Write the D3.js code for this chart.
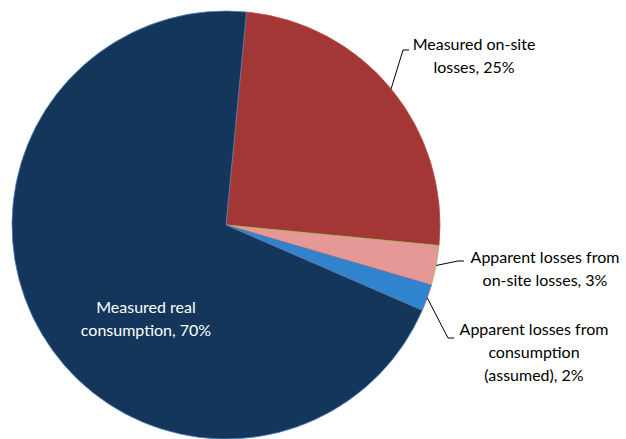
<!DOCTYPE html>
<html>
<head>
<meta charset="utf-8">
<script src="https://cdn.jsdelivr.net/npm/d3@7/dist/d3.min.js"></script>
<style>
  html, body { margin: 0; padding: 0; background: #fff; }
  svg { display: block; }
  text { font-family: "Lato", "Open Sans", sans-serif; font-size: 16px; }
</style>
</head>
<body>
<svg id="chart" width="626" height="439"></svg>
<script>
// Water balance shares (percent), drawn clockwise from the top
const categories = [
  "Measured on-site losses",
  "Apparent losses from on-site losses",
  "Apparent losses from consumption (assumed)",
  "Measured real consumption"
];
const values = [25, 3, 2, 70];
const labelLines = [
  ["Measured on-site", "losses, 25%"],
  ["Apparent losses from", "on-site losses, 3%"],
  ["Apparent losses from", "consumption", "(assumed), 2%"],
  ["Measured real", "consumption, 70%"]
];
const fills = ["#a33735", "#e69896", "#2f84cd", "#14365b"];
const edges = ["#c0504d", "#9bbb59", "#8064a2", "#4f81bd"];

const svg = d3.select("#chart");
const cx = 226, cy = 225, R = 214;
const rot = 5.5 * Math.PI / 180;

const pie = d3.pie().sort(null).value(d => d)
  .startAngle(rot).endAngle(rot + 2 * Math.PI);
const arcs = pie(values);
const arc = d3.arc().innerRadius(0).outerRadius(R);

const g = svg.append("g").attr("transform", `translate(${cx},${cy})`);
g.selectAll("path.slice").data(arcs).join("path")
  .attr("class", "slice")
  .attr("d", arc)
  .attr("fill", (d, i) => fills[i])
  .attr("stroke", (d, i) => edges[i])
  .attr("stroke-width", 0.8)
  .attr("stroke-linejoin", "round");

// label anchors: [text centre x, first baseline y, elbow x, elbow y]
const labelPos = [
  [474, 50, 403, 50],
  [545, 263, 458, 261],
  [534, 335, 448, 338],
  [146, 313, null, null]
];
const lineH = 23;

arcs.forEach((d, i) => {
  const [tx, ty, ex, ey] = labelPos[i];
  if (ex !== null) {
    const a = (d.startAngle + d.endAngle) / 2;
    const sx = cx + R * Math.sin(a), sy = cy - R * Math.cos(a);
    svg.append("path")
      .attr("d", d3.line()([[sx, sy], [ex, ey], [ex + 6, ey]]))
      .attr("fill", "none").attr("stroke", "#000").attr("stroke-width", 1);
  }
  const t = svg.append("text")
    .attr("text-anchor", "middle")
    .attr("fill", i === 3 ? "#ffffff" : "#000000");
  labelLines[i].forEach((line, k) => {
    t.append("tspan").attr("x", tx).attr("y", ty + k * lineH).text(line);
  });
});
</script>
</body>
</html>
